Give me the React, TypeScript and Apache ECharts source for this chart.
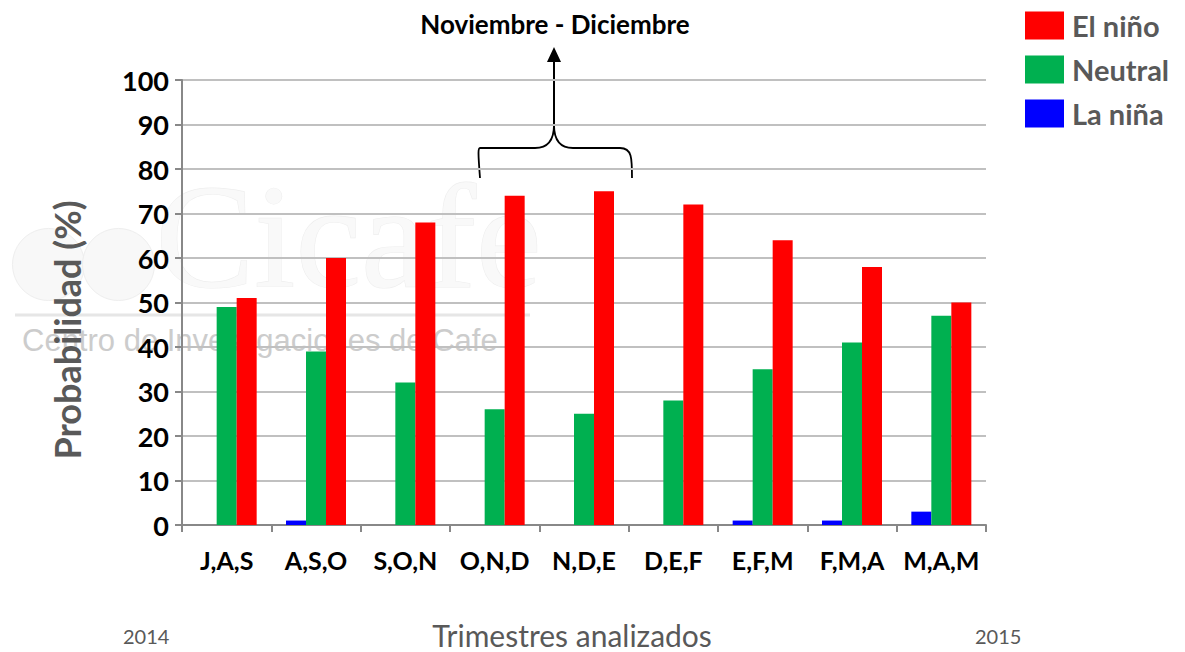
import React, { useEffect, useRef } from "react";
import * as echarts from "echarts";

const categories = ["J,A,S", "A,S,O", "S,O,N", "O,N,D", "N,D,E", "D,E,F", "E,F,M", "F,M,A", "M,A,M"];
const laNina = [0, 1, 0, 0, 0, 0, 1, 1, 3];
const neutral = [49, 39, 32, 26, 25, 28, 35, 41, 47];
const elNino = [51, 60, 68, 74, 75, 72, 64, 58, 50];
const yTicks = { min: 0, max: 100, interval: 10 };

const FONT = "Lato";

export default function App() {
  const ref = useRef<HTMLDivElement>(null);
  useEffect(() => {
    if (!ref.current) return;
    const chart = echarts.init(ref.current, undefined, { renderer: "svg" });
    chart.setOption({
      animation: false,
      backgroundColor: "#ffffff",
      textStyle: { fontFamily: FONT },
      title: {
        text: "Noviembre - Diciembre",
        left: 550,
        textAlign: "center",
        top: 6,
        textStyle: { fontFamily: FONT, fontWeight: "bold", fontSize: 26, color: "#000" },
      },
      legend: {
        orient: "vertical",
        left: 1020,
        top: 6,
        itemWidth: 39,
        itemHeight: 28,
        itemGap: 15,
        icon: "rect",
        data: ["El niño", "Neutral", "La niña"],
        textStyle: { fontFamily: FONT, fontWeight: "bold", fontSize: 29, color: "#595959", padding: [0, 0, 0, 3] },
      },
      grid: { left: 182, right: 199, top: 80, bottom: 127, containLabel: false, outerBoundsMode: "none" },
      xAxis: {
        type: "category",
        data: categories,
        axisLine: { lineStyle: { color: "#888888", width: 2 } },
        axisTick: { show: true, length: 7, lineStyle: { color: "#888888", width: 2 } },
        axisLabel: { interval: 0, fontFamily: FONT, fontWeight: "bold", fontSize: 25, color: "#000", margin: 22 },
      },
      yAxis: {
        type: "value",
        min: yTicks.min,
        max: yTicks.max,
        interval: yTicks.interval,
        axisLine: { show: true, lineStyle: { color: "#888888", width: 2 } },
        axisTick: { show: true, length: 7, lineStyle: { color: "#888888", width: 2 } },
        splitLine: { lineStyle: { color: "#c0c0c0", width: 2 } },
        axisLabel: { fontFamily: FONT, fontWeight: "bold", fontSize: 27, color: "#000", margin: 13 },
      },
      series: [
        { name: "La niña", type: "bar", data: laNina, barWidth: 20, barGap: "0%", itemStyle: { color: "#0000ff" }, z: 3 },
        { name: "Neutral", type: "bar", data: neutral, barWidth: 20, barGap: "0%", itemStyle: { color: "#00b050" }, z: 3 },
        { name: "El niño", type: "bar", data: elNino, barWidth: 20, barGap: "0%", itemStyle: { color: "#ff0000" }, z: 3 },
      ],
      graphic: [
        // watermark
        { type: "circle", left: 12, top: 228, shape: { r: 36 }, style: { fill: "#f8f8f8", stroke: "#eeeeee", lineWidth: 1 }, z: -10 },
        { type: "circle", left: 82, top: 228, shape: { r: 36 }, style: { fill: "#f8f8f8", stroke: "#eeeeee", lineWidth: 1 }, z: -10 },
        { type: "text", left: 155, top: 162, style: { text: "Cicafe", font: "148px 'Liberation Serif', serif", fill: "#f9f9f9", stroke: "#eeeeee", lineWidth: 1.2 }, z: -10 },
        { type: "line", shape: { x1: 15, y1: 315, x2: 530, y2: 315 }, style: { stroke: "#e6e6e6", lineWidth: 3 }, z: -10 },
        { type: "text", left: 22, top: 325, style: { text: "Centro de Investigaciones de Cafe", font: "31px 'Liberation Sans', sans-serif", fill: "#cccccc" }, z: -10 },
        // axis names
        {
          type: "text", x: 67, y: 330, rotation: Math.PI / 2, z: 50,
          style: { text: "Probabilidad (%)", font: "bold 36px " + FONT, fill: "#595959", align: "center", verticalAlign: "middle" },
        },
        {
          type: "text", x: 572, y: 635, z: 50,
          style: { text: "Trimestres analizados", font: "30px " + FONT, fill: "#595959", align: "center", verticalAlign: "middle" },
        },
        // brace and arrow
        {
          type: "group",
          z: 100,
          children: [
            { type: "bezierCurve", shape: { x1: 480, y1: 178, x2: 480, y2: 148, cpx1: 478, cpy1: 152, cpx2: 478, cpy2: 148 }, style: { stroke: "#000", lineWidth: 1.8, fill: null } },
            { type: "line", shape: { x1: 480, y1: 148, x2: 535, y2: 148 }, style: { stroke: "#000", lineWidth: 1.8 } },
            { type: "bezierCurve", shape: { x1: 535, y1: 148, x2: 554, y2: 125, cpx1: 550, cpy1: 148, cpx2: 554, cpy2: 138 }, style: { stroke: "#000", lineWidth: 1.8, fill: null } },
            { type: "bezierCurve", shape: { x1: 554, y1: 125, x2: 573, y2: 148, cpx1: 554, cpy1: 138, cpx2: 558, cpy2: 148 }, style: { stroke: "#000", lineWidth: 1.8, fill: null } },
            { type: "line", shape: { x1: 573, y1: 148, x2: 620, y2: 148 }, style: { stroke: "#000", lineWidth: 1.8 } },
            { type: "bezierCurve", shape: { x1: 620, y1: 148, x2: 632, y2: 178, cpx1: 632, cpy1: 148, cpx2: 632, cpy2: 158 }, style: { stroke: "#000", lineWidth: 1.8, fill: null } },
            { type: "line", shape: { x1: 554, y1: 125, x2: 554, y2: 60 }, style: { stroke: "#000", lineWidth: 2 } },
            { type: "polygon", shape: { points: [[554, 47], [547, 62], [561, 62]] }, style: { fill: "#000" } },
          ],
        },
        { type: "text", left: 123, top: 626, style: { text: "2014", font: "20px " + FONT, fill: "#595959" } },
        { type: "text", left: 975, top: 626, style: { text: "2015", font: "20px " + FONT, fill: "#595959" } },
      ],
    });
    return () => chart.dispose();
  }, []);
  return <div ref={ref} style={{ position: "fixed", left: 0, top: 0, width: 1185, height: 652 }} />;
}
